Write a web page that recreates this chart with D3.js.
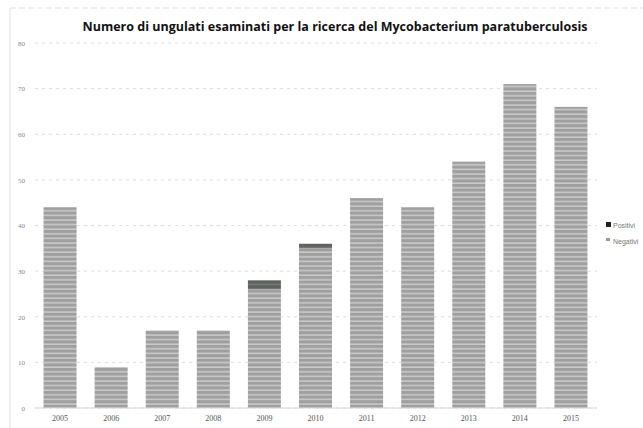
<!DOCTYPE html>
<html>
<head>
<meta charset="utf-8">
<script src="https://cdn.jsdelivr.net/npm/d3@7"></script>
<style>
  body { margin: 0; background: #fff; }
  svg { display: block; }
</style>
</head>
<body>
<script>
var years = ["2005", "2006", "2007", "2008", "2009", "2010", "2011", "2012", "2013", "2014", "2015"];
var positivi = [0, 0, 0, 0, 2, 1, 0, 0, 0, 0, 0];
var negativi = [44, 9, 17, 17, 26, 35, 46, 44, 54, 71, 66];
var yTicks = [0, 10, 20, 30, 40, 50, 60, 70, 80];
var seriesNames = ["Positivi", "Negativi"];

var width = 643, height = 428;

var svg = d3.select('body').append('svg')
    .attr('width', width)
    .attr('height', height);

// striped fill that mimics the scanned bars
var defs = svg.append("defs");
var pat = defs.append("pattern")
    .attr("id", "stripes")
    .attr("patternUnits", "userSpaceOnUse")
    .attr("width", 6)
    .attr("height", 4.6);
pat.append("rect").attr("width", 6).attr("height", 4.6).attr("fill", "#9e9f9e");
pat.append("rect").attr("y", 3.2).attr("width", 6).attr("height", 1.2).attr("fill", "#d6d6d6");

var patD = defs.append("pattern")
    .attr("id", "darkstripes")
    .attr("patternUnits", "userSpaceOnUse")
    .attr("width", 6)
    .attr("height", 4.6);
patD.append("rect").attr("width", 6).attr("height", 4.6).attr("fill", "#5d625f");
patD.append("rect").attr("y", 3.2).attr("width", 6).attr("height", 1.2).attr("fill", "#7c807d");

// outer frame (faint)
svg.append("line").attr("x1", 10).attr("x2", 643).attr("y1", 8).attr("y2", 8)
    .attr("stroke", "#ddd").attr("stroke-dasharray", "6,3");
svg.append("line").attr("x1", 10).attr("x2", 10).attr("y1", 8).attr("y2", 428)
    .attr("stroke", "#e2e2e2");

var x = d3.scaleBand()
    .domain(years)
    .range([34.5, 596.5])
    .paddingInner(0.354)
    .paddingOuter(0.177);

var y = d3.scaleLinear()
    .domain([0, 80])
    .range([408, 43]);

// gridlines
svg.append("g")
    .selectAll("line")
    .data(yTicks)
    .enter().append("line")
    .attr("x1", 35)
    .attr("x2", 597)
    .attr("y1", function(d) { return y(d); })
    .attr("y2", function(d) { return y(d); })
    .attr("stroke", "#d4d4d4")
    .attr("stroke-width", 0.8)
    .attr("stroke-dasharray", "3,4");

// y labels
var yAxis = d3.axisLeft(y).tickValues(yTicks).tickSize(0).tickPadding(0);
var gy = svg.append("g").attr("transform", "translate(25,0)").call(yAxis);
gy.select(".domain").remove();
gy.selectAll("text")
    .attr("font-family", "Liberation Serif, serif")
    .attr("font-size", 7)
    .attr("fill", "#888");

// x labels
var xAxis = d3.axisBottom(x).tickSize(0).tickPadding(0);
var gx = svg.append("g").attr("transform", "translate(0,415)").call(xAxis);
gx.select(".domain").remove();
gx.selectAll("text")
    .attr("font-family", "Liberation Serif, serif")
    .attr("font-size", 8)
    .attr("fill", "#555");

// stacked bars: negativi at bottom, positivi on top
var bars = svg.append("g");
bars.selectAll("rect.neg")
    .data(years)
    .enter().append("rect")
    .attr("class", "neg")
    .attr("x", function(d) { return x(d); })
    .attr("width", x.bandwidth())
    .attr("y", function(d, i) { return y(negativi[i]); })
    .attr("height", function(d, i) { return y(0) - y(negativi[i]); })
    .attr("fill", "url(#stripes)");

bars.selectAll("rect.pos")
    .data(years)
    .enter().append("rect")
    .attr("class", "pos")
    .attr("x", function(d) { return x(d); })
    .attr("width", x.bandwidth())
    .attr("y", function(d, i) { return y(negativi[i] + positivi[i]); })
    .attr("height", function(d, i) { return y(negativi[i]) - y(negativi[i] + positivi[i]); })
    .attr("fill", "url(#darkstripes)");

// baseline
svg.append("line")
    .attr("x1", 35).attr("x2", 597)
    .attr("y1", y(0)).attr("y2", y(0))
    .attr("stroke", "#d8d8d8");

// title
svg.append("text")
    .attr("x", 335)
    .attr("y", 31)
    .attr("text-anchor", "middle")
    .attr("font-family", "Open Sans, sans-serif")
    .attr("font-weight", "bold")
    .attr("font-size", 12.5)
    .attr("fill", "#111")
    .text("Numero di ungulati esaminati per la ricerca del Mycobacterium paratuberculosis");

// legend, pulled in a little so both names fit
var leg = svg.append("g").attr("transform", "translate(606,226)");
var legColors = ["#222", "#9a9a9a"];
seriesNames.forEach(function(name, i) {
    leg.append("rect")
        .attr("x", 0).attr("y", i * 16 - 4)
        .attr("width", i == 0 ? 5 : 4).attr("height", i == 0 ? 5 : 3)
        .attr("fill", legColors[i]);
    leg.append("text")
        .attr("x", 7).attr("y", i * 16 + 1.5)
        .attr("font-family", "Liberation Sans, sans-serif")
        .attr("font-size", 7)
        .attr("fill", "#777")
        .text(name);
});
</script>
</body>
</html>
